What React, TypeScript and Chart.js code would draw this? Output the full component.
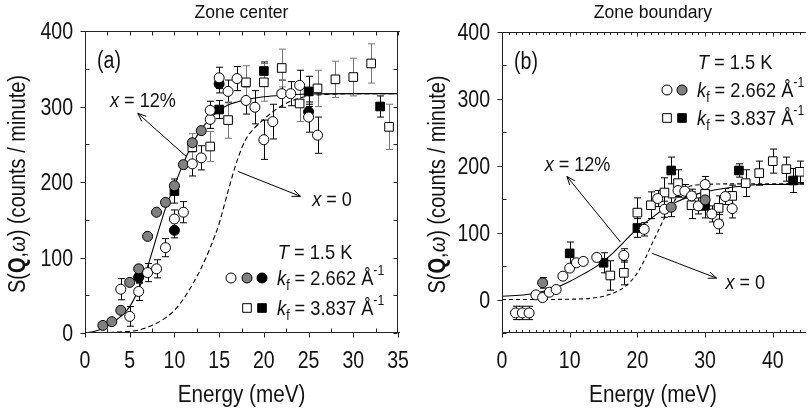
import React, { useEffect, useRef } from 'react';
import { Chart, registerables } from 'chart.js';
Chart.register(...registerables);

const FF = '"Liberation Sans", Arial, Helvetica, sans-serif';

// ---------------- Panel (a): Zone center ----------------
const aTitle = 'Zone center';
const aXTicks = [0, 5, 10, 15, 20, 25, 30, 35];
const aYTicks = [0, 100, 200, 300, 400];

const aGrayE = [2, 3, 4, 5, 6, 7, 8, 9, 10, 11, 12, 13];
const aGrayS = [10, 15, 30, 67, 85, 128, 160, 173, 195, 223, 252, 268];

const aBlackCircE = [6, 10, 15, 25];
const aBlackCircS = [74, 136, 330, 293];
const aBlackCircErr = [8, 10, 12, 10];

const aOpenCircE = [4, 5, 6, 7, 8, 9, 10, 11, 12, 13, 14, 14, 15, 16, 17, 18, 19, 20, 21, 22, 23, 24, 25, 26];
const aOpenCircS = [58, 22, 55, 80, 85, 113, 151, 160, 224, 232, 283, 295, 338, 320, 337, 308, 299, 256, 280, 317, 317, 328, 286, 262];
const aOpenCircErr = [14, 13, 12, 12, 12, 12, 12, 14, 16, 16, 12, 12, 14, 15, 16, 18, 22, 26, 23, 18, 16, 20, 20, 24];

const aOpenSqE = [12, 14, 16, 18, 20, 22, 24, 26, 28, 30, 32, 34];
const aOpenSqS = [246, 247, 282, 332, 332, 351, 304, 324, 336, 339, 357, 273];
const aOpenSqErr = [18, 20, 24, 22, 25, 25, 24, 24, 24, 25, 26, 30];

const aBlackSqE = [10, 15, 20, 25, 33];
const aBlackSqS = [188, 296, 347, 320, 300];
const aBlackSqErr = [16, 12, 12, 20, 14];

const aFit12E = [0, 1, 2, 3, 4, 5, 6, 7, 8, 9, 10, 11, 12, 13, 14, 15, 16, 17, 18, 20, 22, 25, 30, 35];
const aFit12S = [0, 2, 6, 13, 22, 35, 58, 88, 127, 165, 195, 225, 250, 270, 284, 295, 302, 306, 309, 313, 315, 316.5, 317, 317];

const aFit0E = [0, 2, 4, 6, 8, 9, 10, 11, 12, 13, 14, 15, 16, 17, 18, 19, 20, 21, 22, 23, 24, 25, 27, 30, 35];
const aFit0S = [0, 0.5, 1.5, 4, 13, 20, 30, 45, 64, 86, 113, 145, 188, 228, 257, 272, 283, 293, 301, 307, 311, 314, 316, 317, 317];

// ---------------- Panel (b): Zone boundary ----------------
const bTitle = 'Zone boundary';
const bXTicks = [0, 10, 20, 30, 40];
const bYTicks = [0, 100, 200, 300, 400];

const bOpenCircE = [2, 3, 4, 5, 6, 7, 8, 9, 10, 11, 12, 14, 18, 21, 23, 24, 26, 27, 28, 29, 30, 31, 32, 33, 34];
const bOpenCircS = [-20, -20, -20, 7, 3, 11, 15, 35, 47, 55, 57, 63, 66, 105, 151, 135, 163, 162, 155, 140, 172, 128, 113, 154, 136];
const bOpenCircErr = [10, 10, 10, 4, 4, 4, 4, 4, 4, 4, 4, 4, 10, 10, 12, 12, 10, 10, 10, 12, 12, 12, 14, 12, 14];

const bGrayE = [6, 25, 30];
const bGrayS = [25, 138, 149];
const bGrayErr = [8, 14, 12];

const bOpenSqE = [16, 18, 20, 22, 24, 26, 28, 30, 32, 34, 36, 38, 40, 42, 44];
const bOpenSqS = [36, 40, 130, 141, 160, 174, 141, 158, 137, 155, 174, 189, 207, 195, 191];
const bOpenSqErr = [22, 18, 22, 20, 22, 20, 20, 20, 18, 16, 20, 18, 18, 18, 16];

const bBlackSqE = [10, 15, 20, 25, 30, 35, 43];
const bBlackSqS = [69, 55, 107, 193, 140, 193, 178];
const bBlackSqErr = [17, 15, 14, 20, 18, 10, 18];

const bFit12E = [0, 2, 4, 6, 8, 10, 12, 14, 16, 18, 20, 22, 24, 26, 28, 30, 32, 34, 36, 38, 40, 44.6];
const bFit12S = [5, 6, 8, 12, 18, 27, 38, 50, 66, 86, 106, 121, 136, 147, 155, 161, 165, 168, 170, 172, 172, 173];

const bFit0E = [0, 5, 10, 12, 14, 15, 16, 17, 18, 19, 20, 21, 22, 23, 24, 25, 26, 27, 28, 30, 35, 40, 44.6];
const bFit0S = [0, 0, 0.5, 1, 3, 5, 8, 12, 18, 27, 40, 58, 80, 101, 122, 140, 155, 165, 170, 172, 173, 173, 173];

// ---------------- helpers ----------------
type Run = { t: string; f: string; dy?: number };
const fnt = (size: number, style = 'normal', weight = 'normal') => `${style} ${weight} ${size}px ${FF}`;

function drawRuns(ctx: CanvasRenderingContext2D, runs: Run[], x: number, y: number, align: string, sx: number, rot = 0) {
  ctx.save();
  ctx.translate(x, y);
  if (rot) ctx.rotate(rot);
  ctx.scale(sx, 1);
  let w = 0;
  for (const r of runs) { ctx.font = r.f; w += ctx.measureText(r.t).width; }
  let cx = align === 'left' ? 0 : align === 'center' ? -w / 2 : -w;
  ctx.fillStyle = '#111';
  ctx.textBaseline = 'alphabetic';
  ctx.textAlign = 'left';
  for (const r of runs) {
    ctx.font = r.f;
    ctx.fillText(r.t, cx, r.dy || 0);
    cx += ctx.measureText(r.t).width;
  }
  ctx.restore();
}

function marker(ctx: CanvasRenderingContext2D, kind: string, fill: string, x: number, y: number) {
  ctx.save();
  ctx.beginPath();
  if (kind === 'circle') ctx.arc(x, y, 5, 0, Math.PI * 2);
  else ctx.rect(x - 4.3, y - 4.3, 8.6, 8.6);
  ctx.fillStyle = fill;
  ctx.fill();
  ctx.lineWidth = 1;
  ctx.strokeStyle = '#000';
  ctx.stroke();
  ctx.restore();
}

function arrow(ctx: CanvasRenderingContext2D, x1: number, y1: number, x2: number, y2: number) {
  ctx.save();
  ctx.strokeStyle = '#000';
  ctx.lineWidth = 1;
  ctx.beginPath();
  ctx.moveTo(x1, y1);
  ctx.lineTo(x2, y2);
  const a = Math.atan2(y2 - y1, x2 - x1);
  const L = 9, w = 0.38;
  ctx.moveTo(x2 - L * Math.cos(a - w), y2 - L * Math.sin(a - w));
  ctx.lineTo(x2, y2);
  ctx.lineTo(x2 - L * Math.cos(a + w), y2 - L * Math.sin(a + w));
  ctx.stroke();
  ctx.restore();
}

const pts = (E: number[], S: number[]) => E.map((e, i) => ({ x: e, y: S[i] }));

function pointSet(E: number[], S: number[], errs: number[] | null, style: string, fill: string, errColor: string, order: number) {
  return {
    type: 'scatter',
    data: pts(E, S),
    pointStyle: style,
    pointRadius: style === 'circle' ? 5 : 6.1,
    pointBackgroundColor: fill,
    pointBorderColor: '#000',
    pointBorderWidth: 1,
    showLine: false,
    errs,
    errColor,
    order,
  };
}

function lineSet(E: number[], S: number[], dash: number[]) {
  return {
    type: 'line',
    data: pts(E, S),
    borderColor: '#000',
    borderWidth: 1.1,
    borderDash: dash,
    pointRadius: 0,
    fill: false,
    showLine: true,
    cubicInterpolationMode: 'monotone',
    order: 20,
  };
}

function decor(p: any) {
  return {
    id: 'decor',
    beforeDatasetsDraw(chart: any) {
      const ctx = chart.ctx as CanvasRenderingContext2D;
      const xs = chart.scales.x, ys = chart.scales.y;
      ctx.save();
      chart.data.datasets.forEach((ds: any) => {
        if (!ds.errs) return;
        ctx.strokeStyle = ds.errColor;
        ctx.lineWidth = 1;
        ds.data.forEach((d: any, i: number) => {
          const e = ds.errs[i];
          const x = Math.round(xs.getPixelForValue(d.x)) + 0.5;
          const y1 = ys.getPixelForValue(d.y - e), y2 = ys.getPixelForValue(d.y + e);
          ctx.beginPath();
          ctx.moveTo(x, y1); ctx.lineTo(x, y2);
          ctx.moveTo(x - 3.5, y1); ctx.lineTo(x + 3.5, y1);
          ctx.moveTo(x - 3.5, y2); ctx.lineTo(x + 3.5, y2);
          ctx.stroke();
        });
      });
      ctx.restore();
    },
    afterDatasetsDraw(chart: any) {
      const ctx = chart.ctx as CanvasRenderingContext2D;
      const xs = chart.scales.x, ys = chart.scales.y;
      const ca = chart.chartArea;
      const L = ca.left + 0.5, R = ca.right - 0.5, T = ca.top + 0.5, B = ca.bottom - 0.5;
      ctx.save();
      ctx.strokeStyle = '#222';
      ctx.lineWidth = 1;
      ctx.beginPath();
      ctx.moveTo(L, T); ctx.lineTo(ca.right + 2, T);
      ctx.moveTo(L, T); ctx.lineTo(L, B);
      ctx.moveTo(L, B); ctx.lineTo(ca.right + 2, B);
      if (p.rightAxis) { ctx.moveTo(R, T); ctx.lineTo(R, B); }
      ctx.stroke();
      ctx.beginPath();
      for (let v = p.xMin; v <= p.xMax + 1e-6; v += p.xMinorStep) {
        const x = Math.round(xs.getPixelForValue(v)) + 0.5;
        const major = p.xTicks.some((t: number) => Math.abs(t - v) < 1e-6);
        if (major) { ctx.moveTo(x, B); ctx.lineTo(x, B + 5); }
        else { ctx.moveTo(x, B); ctx.lineTo(x, B - p.bottomMinorLen); }
        ctx.moveTo(x, T); ctx.lineTo(x, T + (major ? p.topMajorLen : p.topLen));
      }
      for (let v = p.yMin; v <= p.yMax + 1e-6; v += p.yMinorStep) {
        const y = Math.round(ys.getPixelForValue(v)) + 0.5;
        const major = p.yTicks.some((t: number) => Math.abs(t - v) < 1e-6);
        if (major) { ctx.moveTo(L, y); ctx.lineTo(L - 5, y); }
        else { ctx.moveTo(L, y); ctx.lineTo(L + 4, y); }
        if (p.rightAxis) { ctx.moveTo(R, y); ctx.lineTo(R - 4, y); }
      }
      ctx.stroke();
      ctx.restore();

      for (const t of p.xTicks) {
        drawRuns(ctx, [{ t: String(t), f: fnt(23) }], xs.getPixelForValue(t), ca.bottom + 35, 'center', 0.85);
      }
      for (const t of p.yTicks) {
        drawRuns(ctx, [{ t: String(t), f: fnt(23) }], ca.left - 12, ys.getPixelForValue(t) + 8, 'right', 0.85);
      }
      const midX = (ca.left + Math.min(ca.right, chart.width)) / 2;
      drawRuns(ctx, [{ t: 'Energy (meV)', f: fnt(23) }], midX, ca.bottom + 69, 'center', 0.9);
      drawRuns(ctx, [
        { t: 'S(', f: fnt(23) },
        { t: 'Q', f: fnt(23, 'normal', 'bold') },
        { t: ',', f: fnt(23) },
        { t: 'ω', f: fnt(23, 'italic') },
        { t: ') (counts / minute)', f: fnt(23) },
      ], 25, (ca.top + ca.bottom) / 2 + 2, 'center', 0.87, -Math.PI / 2);
      drawRuns(ctx, [{ t: p.title, f: fnt(18.5) }], midX, 18, 'center', 0.95);
      drawRuns(ctx, [{ t: p.tag, f: fnt(23) }], ca.left + 12, ca.top + 37, 'left', 0.85);

      const lg = p.legend;
      drawRuns(ctx, [{ t: 'T', f: fnt(21, 'italic') }, { t: ' = 1.5 K', f: fnt(21) }], lg.tx, lg.ty, 'center', 0.87);
      p.legendMarkers.forEach((row: any[], ri: number) => {
        const y = lg.rowY[ri];
        row.forEach((m, mi) => marker(ctx, m.kind, m.fill, lg.mx[mi + (lg.mx.length - row.length)], y));
        const val = p.legendTexts[ri];
        drawRuns(ctx, [
          { t: 'k', f: fnt(21, 'italic') },
          { t: 'f', f: fnt(14), dy: 5 },
          { t: ' = ' + val + ' Å', f: fnt(21) },
          { t: '-1', f: fnt(14), dy: -10 },
        ], lg.textX, y + 7, 'left', 0.87);
      });

      for (const a of p.arrows) {
        arrow(ctx, xs.getPixelForValue(a.from[0]), ys.getPixelForValue(a.from[1]), xs.getPixelForValue(a.to[0]), ys.getPixelForValue(a.to[1]));
        drawRuns(ctx, [{ t: 'x', f: fnt(21, 'italic') }, { t: ' = ' + a.label, f: fnt(21) }],
          xs.getPixelForValue(a.at[0]), ys.getPixelForValue(a.at[1]) + 7, 'left', 0.86);
      }
    },
  };
}

function makeChart(canvas: HTMLCanvasElement, p: any, datasets: any[]) {
  return new Chart(canvas, {
    type: 'scatter',
    data: { datasets },
    options: {
      animation: false,
      responsive: false,
      maintainAspectRatio: false,
      layout: { padding: p.pad },
      scales: {
        x: { type: 'linear', min: p.xMin, max: p.xMax, display: false },
        y: { type: 'linear', min: p.yMin, max: p.yMax, display: false },
      },
      plugins: { legend: { display: false }, tooltip: { enabled: false } },
    },
    plugins: [decor(p)],
  } as any);
}

const panelA: any = {
  title: aTitle, tag: '(a)',
  xMin: 0, xMax: 35, yMin: 0, yMax: 400,
  xTicks: aXTicks, yTicks: aYTicks, xMinorStep: 2.5, yMinorStep: 50,
  rightAxis: true, bottomMinorLen: 4, topLen: 4, topMajorLen: 4,
  legend: { tx: 315, ty: 259, mx: [231, 247, 262], rowY: [278, 308], textX: 277 },
  legendMarkers: [
    [{ kind: 'circle', fill: '#fff' }, { kind: 'circle', fill: '#808080' }, { kind: 'circle', fill: '#000' }],
    [{ kind: 'rect', fill: '#fff' }, { kind: 'rect', fill: '#000' }],
  ],
  legendTexts: ['2.662', '3.837'],
  arrows: [
    { from: [11.4, 233], to: [5.9, 291], label: '12%', at: [2.8, 308] },
    { from: [17.1, 214], to: [24.1, 181], label: '0', at: [25.4, 178] },
  ],
  pad: { left: 85, right: 22, top: 31, bottom: 79 },
};

const panelB: any = {
  title: bTitle, tag: '(b)',
  xMin: 0, xMax: 44.6, yMin: -50, yMax: 400,
  xTicks: bXTicks, yTicks: bYTicks, xMinorStep: 1, yMinorStep: 50,
  rightAxis: false, bottomMinorLen: 2.5, topLen: 2.5, topMajorLen: 4,
  legend: { tx: 315, ty: 69, mx: [247, 262], rowY: [90, 118], textX: 277 },
  legendMarkers: [
    [{ kind: 'circle', fill: '#fff' }, { kind: 'circle', fill: '#808080' }],
    [{ kind: 'rect', fill: '#fff' }, { kind: 'rect', fill: '#000' }],
  ],
  legendTexts: ['2.662', '3.837'],
  arrows: [
    { from: [17.5, 86], to: [9.6, 184], label: '12%', at: [6.3, 202] },
    { from: [22.2, 69], to: [31.7, 32], label: '0', at: [33.0, 26] },
  ],
  pad: { left: 82, right: 0, top: 32, bottom: 79 },
};

export default function App() {
  const refA = useRef<HTMLCanvasElement>(null);
  const refB = useRef<HTMLCanvasElement>(null);
  useEffect(() => {
    const ca = makeChart(refA.current!, panelA, [
      pointSet(aBlackCircE, aBlackCircS, aBlackCircErr, 'circle', '#000', '#000', 3),
      pointSet(aOpenCircE, aOpenCircS, aOpenCircErr, 'circle', '#fff', '#000', 1),
      pointSet(aGrayE, aGrayS, null, 'circle', '#808080', '#000', 2),
      pointSet(aBlackSqE, aBlackSqS, aBlackSqErr, 'rect', '#000', '#000', 4),
      pointSet(aOpenSqE, aOpenSqS, aOpenSqErr, 'rect', '#fff', '#777', 5),
      lineSet(aFit12E, aFit12S, []),
      lineSet(aFit0E, aFit0S, [5, 3]),
    ]);
    const cb = makeChart(refB.current!, panelB, [
      pointSet(bGrayE, bGrayS, bGrayErr, 'circle', '#808080', '#000', 1),
      pointSet(bOpenCircE, bOpenCircS, bOpenCircErr, 'circle', '#fff', '#000', 2),
      pointSet(bBlackSqE, bBlackSqS, bBlackSqErr, 'rect', '#000', '#000', 3),
      pointSet(bOpenSqE, bOpenSqS, bOpenSqErr, 'rect', '#fff', '#000', 4),
      lineSet(bFit12E, bFit12S, []),
      lineSet(bFit0E, bFit0S, [4, 3]),
    ]);
    return () => { ca.destroy(); cb.destroy(); };
  }, []);
  return (
    <div style={{ position: 'absolute', left: 0, top: 0, width: 811, height: 412, background: '#fff', overflow: 'hidden' }}>
      <canvas ref={refA} width={420} height={412} style={{ position: 'absolute', left: 0, top: 0, width: 420, height: 412 }} />
      <canvas ref={refB} width={391} height={412} style={{ position: 'absolute', left: 420, top: 0, width: 391, height: 412 }} />
    </div>
  );
}
